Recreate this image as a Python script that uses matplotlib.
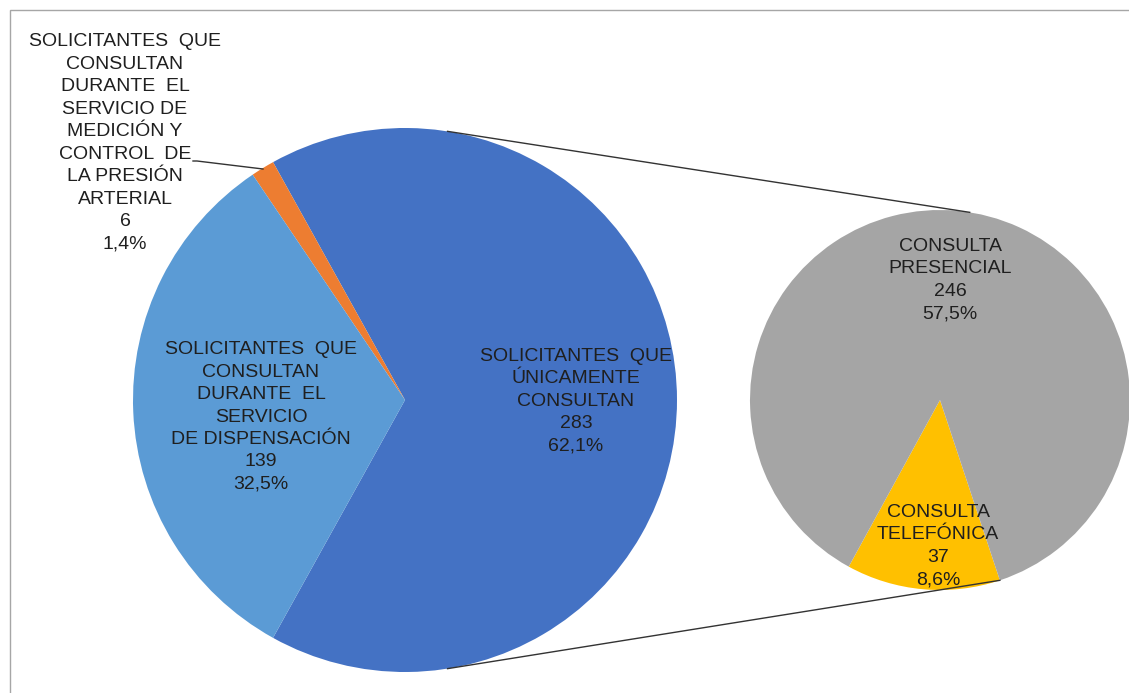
import numpy as np
import matplotlib.pyplot as plt
from matplotlib.patches import Rectangle

plt.rcParams['font.family'] = ['Liberation Sans', 'DejaVu Sans']

# primary pie: only-consult (split into the secondary pie), blood pressure, dispensing
main_names = ['SOLICITANTES  QUE\nÚNICAMENTE\nCONSULTAN',
              'SOLICITANTES  QUE\nCONSULTAN\nDURANTE  EL\nSERVICIO DE\nMEDICIÓN Y\nCONTROL  DE\nLA PRESIÓN\nARTERIAL',
              'SOLICITANTES  QUE\nCONSULTAN\nDURANTE  EL\nSERVICIO\nDE DISPENSACIÓN']
main_values = [283, 6, 139]
main_pcts = ['62,1%', '1,4%', '32,5%']
main_colors = ['#4472C4', '#ED7D31', '#5B9BD5']

# secondary pie: breakdown of the only-consult group
sub_names = ['CONSULTA\nTELEFÓNICA', 'CONSULTA\nPRESENCIAL']
sub_values = [37, 246]
sub_pcts = ['8,6%', '57,5%']
sub_colors = ['#FFC000', '#A5A5A5']

W, H = 1129, 693
fig = plt.figure(figsize=(W / 100, H / 100), dpi=100)
ax = fig.add_axes([0, 0, 1, 1])

# centres in pixel units (y measured from the bottom)
c1, r1 = (405, H - 400), 272
c2, r2 = (940, H - 400), 190

split_span = main_values[0] / sum(main_values) * 360
w1, _ = ax.pie(main_values, colors=main_colors, startangle=-split_span / 2,
               center=c1, radius=r1, counterclock=True,
               wedgeprops=dict(linewidth=0))
w2, _ = ax.pie(sub_values, colors=sub_colors, startangle=-118.7,
               center=c2, radius=r2, counterclock=True,
               wedgeprops=dict(linewidth=0))

ax.set_xlim(0, W)
ax.set_ylim(0, H)
ax.set_aspect('equal')
ax.axis('off')


def pt(c, r, ang):
    a = np.deg2rad(ang)
    return c[0] + r * np.cos(a), c[1] + r * np.sin(a)


# connector lines between the two pies
p1 = pt(c1, r1, 81)
q1 = pt(c2, r2, 81)
p2 = pt(c1, r1, -81)
q2 = pt(c2, r2, w2[0].theta2)
ax.plot([p1[0], q1[0]], [p1[1], q1[1]], color='#333333', lw=1)
ax.plot([p2[0], q2[0]], [p2[1], q2[1]], color='#333333', lw=1)

# leader line for the small orange slice
ax.plot([193, 197, 263], [H - 161, H - 161, H - 169], color='#333333', lw=1)

txt = dict(ha='center', va='center', fontsize=14, color='#1f1f1f',
           linespacing=1.42)


def label(x, y, name, val, pct):
    ax.text(x, H - y, f'{name}\n{val}\n{pct}', **txt)


label(576, 401, main_names[0], main_values[0], main_pcts[0])
label(125, 143, main_names[1], main_values[1], main_pcts[1])
label(261, 417, main_names[2], main_values[2], main_pcts[2])
label(938, 546, sub_names[0], sub_values[0], sub_pcts[0])
label(950, 280, sub_names[1], sub_values[1], sub_pcts[1])

# chart frame
ax.add_patch(Rectangle((10, -10), W + 10, H, fill=False,
                       edgecolor='#A6A6A6', lw=1))

fig.savefig('out.png', dpi=100)
